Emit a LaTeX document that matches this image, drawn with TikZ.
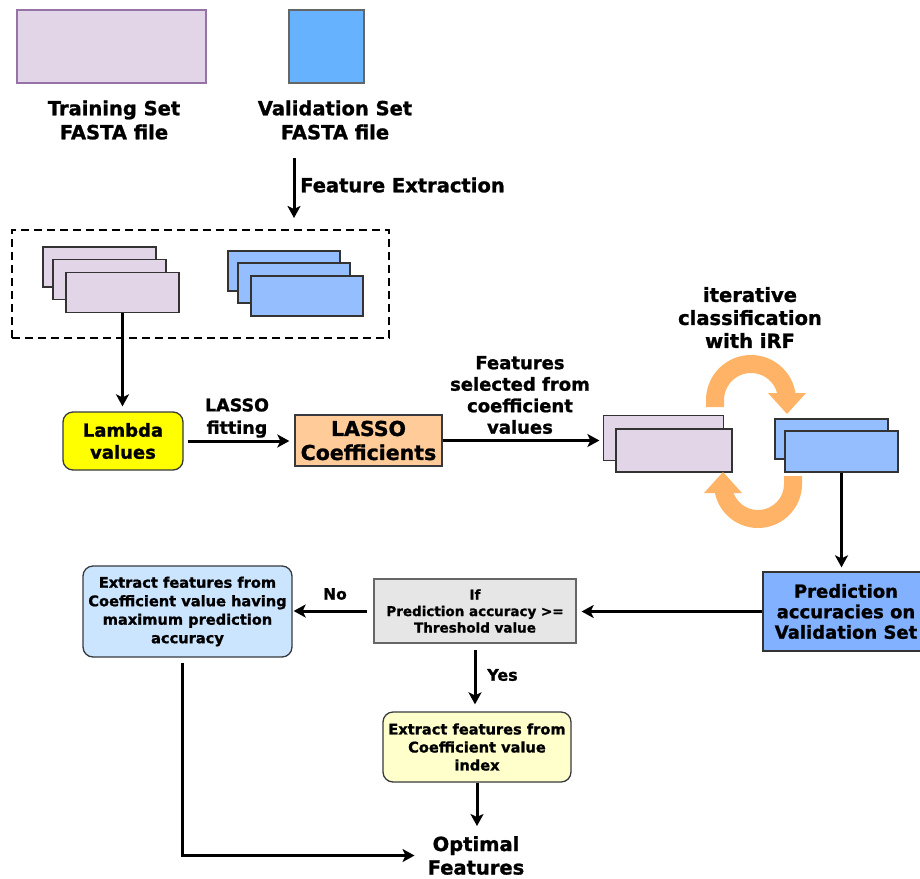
\documentclass[tikz,border=0pt]{standalone}
\usepackage{fontspec}
\setmainfont{DejaVu Sans}[BoldFeatures={FakeBold=1.2}]
\usetikzlibrary{arrows.meta}
\definecolor{purfill}{HTML}{E1D5E7}
\definecolor{purdraw}{HTML}{9673A6}
\definecolor{valfill}{HTML}{66B2FF}
\definecolor{stackblue}{HTML}{94BEFF}
\definecolor{predblue}{HTML}{82B1FF}
\definecolor{lamfill}{HTML}{FFFF00}
\definecolor{lasfill}{HTML}{FFCC99}
\definecolor{leftfill}{HTML}{CCE5FF}
\definecolor{iffill}{HTML}{E6E6E6}
\definecolor{yelfill}{HTML}{FFFFCC}
\definecolor{orng}{HTML}{FFB366}
\definecolor{darkline}{HTML}{36393D}
\begin{document}
\begin{tikzpicture}[x=1pt,y=-1pt,
  arr/.style={line width=3pt,-{Stealth[length=12pt,width=13pt,inset=3pt]}},
  plainline/.style={line width=3pt},
  tA/.style={align=center,inner sep=0pt,font=\bfseries\fontsize{19.5}{24}\selectfont},
  tB/.style={align=center,inner sep=0pt,font=\bfseries\fontsize{17.5}{22.5}\selectfont},
  tC/.style={align=center,inner sep=0pt,font=\bfseries\fontsize{18}{21.5}\selectfont},
  tD/.style={align=center,inner sep=0pt,font=\bfseries\fontsize{16}{19}\selectfont},
  sheetP/.style={draw=black!80,fill=purfill,line width=1.2pt,inner sep=0pt},
  sheetB/.style={draw=black!80,fill=stackblue,line width=1.2pt,inner sep=0pt},
  procbox/.style={draw=darkline,line width=1.3pt,align=center,inner sep=2pt},
  arcline/.style={draw=orng,line width=18pt},
  arctip/.style={fill=orng,draw=none}
]
\useasboundingbox (0,0) rectangle (920,878);

% top files
\node[draw=purdraw,fill=purfill,line width=1.5pt,minimum width=189pt,minimum height=73pt] (train) at (111.5,46.5) {};
\node[draw=black!60,fill=valfill,line width=1.5pt,minimum width=75pt,minimum height=73pt] (valid) at (326.5,46.5) {};
\node[tA] (trainl) at (114,120) {Training Set\\FASTA file};
\node[tA] (validl) at (335,120) {Validation Set\\FASTA file};

% feature extraction arrow
\coordinate (fe1) at (294,158);
\coordinate (fe2) at (294,218);
\draw[arr] (fe1) -- (fe2);
\node[tA,anchor=west] (fel) at (300,185) {Feature Extraction};

% dashed group
\node[draw,dash pattern=on 8pt off 5pt,line width=2pt,minimum width=377pt,minimum height=108pt] (dbox) at (200.5,284) {};
\node[sheetP,minimum width=113pt,minimum height=40pt] (p1) at (99.5,267) {};
\node[sheetP,minimum width=113pt,minimum height=40pt] (p2) at (109.5,279.5) {};
\node[sheetP,minimum width=113pt,minimum height=40pt] (p3) at (122.5,292.5) {};
\node[sheetB,minimum width=112pt,minimum height=40pt] (b1) at (284,271) {};
\node[sheetB,minimum width=112pt,minimum height=40pt] (b2) at (294,283) {};
\node[sheetB,minimum width=112pt,minimum height=40pt] (b3) at (307,296) {};

% lambda and lasso
\node[procbox,fill=lamfill,rounded corners=10pt,minimum width=120pt,minimum height=58pt,font=\bfseries\fontsize{18}{22}\selectfont] (lambda) at (123,441) {Lambda\\values};
\node[procbox,fill=lasfill,minimum width=147pt,minimum height=51pt,font=\bfseries\fontsize{20.5}{24}\selectfont] (lasso) at (368.5,440.5) {LASSO\\Coefficients};
\draw[arr,shorten >=5pt] (p3.south) -- (p3.south |- lambda.north);
\draw[arr,shorten <=4pt,shorten >=5pt] (lambda.east) -- (lambda.east -| lasso.west);
\node[tB] (fitl) at (237,418) {LASSO\\fitting};

% selected feature sheets
\node[sheetP,minimum width=120pt,minimum height=45pt] (q1) at (663.5,438) {};
\node[sheetP,minimum width=116pt,minimum height=43pt] (q2) at (674,450.5) {};
\node[sheetB,minimum width=113pt,minimum height=40pt] (r1) at (831.5,439) {};
\node[sheetB,minimum width=113pt,minimum height=41pt] (r2) at (841.5,451.5) {};
\draw[arr,shorten >=3.5pt] (lasso.east) -- (lasso.east -| q1.west);
\node[tC] (featl) at (520,395) {Features\\selected from\\coefficient\\values};

% iterative arcs
\node[tA,font=\bfseries\fontsize{19.5}{23}\selectfont] (iterl) at (750,317.5) {iterative\\classification\\with iRF};
\draw[arcline] (715,407) -- (715,400) arc[start angle=180,end angle=0,radius=36pt];
\fill[arctip] (768,393) -- (806,393) -- (787,414) -- cycle;
\draw[arcline] (793,476) -- (793,484) arc[start angle=0,end angle=-180,radius=35pt];
\fill[arctip] (704,493) -- (742,493) -- (723,472) -- cycle;

% prediction
\node[draw=black!80,fill=predblue,line width=1.3pt,align=center,minimum width=166pt,minimum height=79pt,inner sep=2pt,font=\bfseries\fontsize{18}{20.5}\selectfont] (pred) at (846,611.5) {Prediction\\accuracies on\\Validation Set};
\draw[arr,shorten >=4pt] (r2.south) -- (r2.south |- pred.north);

% decision
\node[draw=black!60,fill=iffill,line width=1.3pt,align=center,minimum width=202pt,minimum height=64pt,inner sep=2pt,font=\bfseries\fontsize{13.5}{16.5}\selectfont] (ifbox) at (475,611) {If\\Prediction accuracy >=\\Threshold value};
\draw[arr,shorten >=5pt] (pred.west) -- (pred.west -| ifbox.east);

\node[procbox,fill=leftfill,rounded corners=10pt,minimum width=209pt,minimum height=91pt,font=\bfseries\fontsize{14.6}{18.5}\selectfont] (leftbox) at (187.5,611.5) {Extract features from\\Coefficient value having\\maximum prediction\\accuracy};
\draw[arr,shorten <=6pt,shorten >=1pt] (ifbox.west) -- (ifbox.west -| leftbox.east);
\node[tD,font=\bfseries\fontsize{15.5}{19}\selectfont] (nol) at (335,594) {No};

\node[procbox,fill=yelfill,rounded corners=10pt,minimum width=188pt,minimum height=70pt,font=\bfseries\fontsize{14.6}{18}\selectfont] (yel) at (477,747) {Extract features from\\Coefficient value\\index};
\draw[arr,shorten <=6pt,shorten >=7pt] (ifbox.south) -- (ifbox.south |- yel.north);
\node[tD,anchor=west] (yesl) at (487,675) {Yes};

% optimal
\node[tA,font=\bfseries\fontsize{19.5}{23.5}\selectfont] (opt) at (476,855.5) {Optimal\\Features};
\draw[arr,shorten >=10pt] (yel.south) -- (yel.south |- opt.north);
\draw[arr,shorten <=5pt,shorten >=13pt] ([xshift=-5pt]leftbox.south) |- (opt.west);
\end{tikzpicture}
\end{document}
